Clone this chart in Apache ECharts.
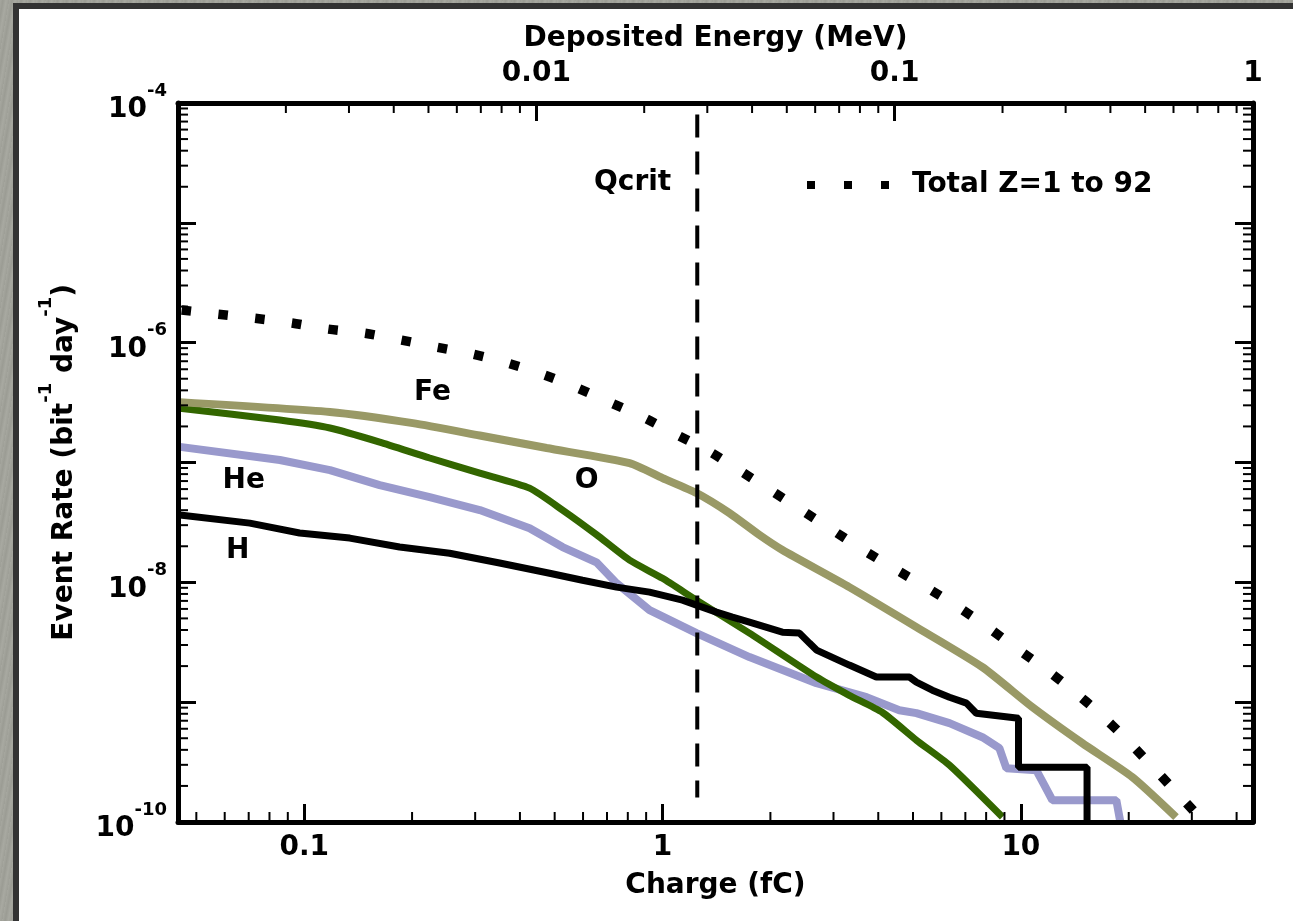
<!DOCTYPE html>
<html><head><meta charset="utf-8">
<script src="https://cdn.jsdelivr.net/npm/echarts@6/dist/echarts.min.js"></script>
<style>
html,body{margin:0;padding:0;width:1293px;height:921px;overflow:hidden;background:#a2a39b;}
#bg{position:absolute;left:0;top:0;width:1293px;height:921px;background:repeating-linear-gradient(100deg,#a6a79f 0px,#9b9c94 3px,#a8a9a1 6px,#9e9f97 9px);}
#frame{position:absolute;left:13px;top:3px;width:1290px;height:930px;box-sizing:border-box;border:6px solid #333;background:#fff;}
#chart{position:absolute;left:0;top:0;width:1293px;height:921px;}
</style></head><body>
<div id="bg"></div><div id="frame"></div><div id="chart"></div>
<script>
// ---------------- data ----------------
const totalCharge = [0.0455, 0.0574, 0.0727, 0.0923, 0.1163, 0.1475, 0.187, 0.234, 0.295, 0.3695, 0.469, 0.579, 0.721, 0.891, 1.101, 1.361, 1.651, 2.0, 2.443, 2.979, 3.71, 4.52, 5.49, 6.69, 8.07, 9.71, 11.63, 13.92, 16.56, 19.56, 22.96, 26.97, 31.47, 34];
const totalRate   = [1.87e-6, 1.73e-6, 1.60e-6, 1.46e-6, 1.30e-6, 1.20e-6, 1.05e-6, 9.19e-7, 8.03e-7, 6.76e-7, 5.37e-7, 4.18e-7, 3.13e-7, 2.35e-7, 1.69e-7, 1.22e-7, 8.48e-8, 5.89e-8, 4.01e-8, 2.73e-8, 1.79e-8, 1.26e-8, 8.95e-9, 6.21e-9, 4.23e-9, 2.82e-9, 1.92e-9, 1.26e-9, 8.09e-10, 5.0e-10, 3.03e-10, 1.81e-10, 1.10e-10, 8.5e-11];

const feCharge = [0.045, 0.118, 0.201, 0.309, 0.475, 0.809, 1.0, 1.244, 1.538, 1.865, 2.16, 3.32, 5.11, 7.81, 10.77, 14.84, 20.47, 27.1];
const feRate   = [3.19e-7, 2.64e-7, 2.13e-7, 1.68e-7, 1.32e-7, 9.88e-8, 7.41e-8, 5.56e-8, 3.78e-8, 2.48e-8, 1.86e-8, 9.12e-9, 4.23e-9, 1.96e-9, 9.08e-10, 4.55e-10, 2.37e-10, 1.10e-10];

const oCharge = [0.045, 0.0855, 0.118, 0.1624, 0.224, 0.309, 0.4256, 0.526, 0.654, 0.809, 1.0, 1.244, 1.748, 2.69, 3.32, 4.11, 5.11, 6.32, 8.88];
const oRate   = [2.84e-7, 2.26e-7, 1.94e-7, 1.48e-7, 1.09e-7, 8.16e-8, 6.11e-8, 4.01e-8, 2.5e-8, 1.53e-8, 1.08e-8, 7.1e-9, 3.77e-9, 1.62e-9, 1.14e-9, 8.2e-10, 4.82e-10, 2.98e-10, 1.1e-10];

const heCharge = [0.045, 0.0855, 0.118, 0.1624, 0.224, 0.309, 0.4256, 0.526, 0.654, 0.744, 0.920, 1.244, 1.748, 2.69, 3.71, 4.58, 5.11, 6.32, 7.81, 8.71, 9.11, 11.05, 11.63, 12.24, 18.47, 18.95];
const heRate   = [1.35e-7, 1.05e-7, 8.65e-8, 6.48e-8, 5.14e-8, 4.01e-8, 2.83e-8, 1.97e-8, 1.47e-8, 9.84e-9, 5.86e-9, 3.77e-9, 2.38e-9, 1.44e-9, 1.10e-9, 8.57e-10, 8.1e-10, 6.68e-10, 5.1e-10, 4.13e-10, 2.81e-10, 2.70e-10, 2.03e-10, 1.52e-10, 1.52e-10, 1e-10];

const hCharge = [0.045, 0.0705, 0.0971, 0.134, 0.1846, 0.2546, 0.351, 0.484, 0.598, 0.744, 0.920, 1.137, 1.244, 1.414, 1.567, 1.748, 2.16, 2.41, 2.57, 2.69, 3.32, 3.95, 4.89, 5.11, 5.66, 6.32, 7.05, 7.51, 9.85, 9.85, 15.3, 15.3];
const hRate   = [3.64e-8, 3.12e-8, 2.58e-8, 2.34e-8, 1.97e-8, 1.75e-8, 1.45e-8, 1.19e-8, 1.04e-8, 9.12e-9, 8.28e-9, 7.1e-9, 6.45e-9, 5.64e-9, 5.13e-9, 4.66e-9, 3.84e-9, 3.77e-9, 3.11e-9, 2.72e-9, 2.04e-9, 1.62e-9, 1.62e-9, 1.47e-9, 1.26e-9, 1.10e-9, 9.82e-10, 8.09e-10, 7.35e-10, 2.86e-10, 2.86e-10, 1e-10];

const qcrit = 1.25;                       // fC
const qcritSpan = [8e-5, 1.6e-10];        // vertical extent of the Qcrit marker line

const chargeTickLabels = ['0.1', '1', '10'];
const energyTickLabels = ['0.01', '0.1', '1'];
const rateTickExponents = [-10, -8, -6, -4];

const seriesLabels = [ // text, charge, rate
  ['Fe', 0.228, 3.79e-7], ['O', 0.614, 7.0e-8], ['He', 0.0678, 7.0e-8], ['H', 0.0652, 1.82e-8]
];
const qcritLabel = ['Qcrit', 0.825, 2.15e-5];

// ---------------- setup ----------------
const MeVperfC = 0.0225;
const eMin = 0.001, eMax = 1;
const xMin = eMin / MeVperfC, xMax = eMax / MeVperfC;
const yMin = 1e-10, yMax = 1e-4;
const FONT = 'DejaVu Sans';
const zip = (a, b) => a.map((v, i) => [v, b[i]]);

function isDecade(v) { const l = Math.log10(v); return Math.abs(l - Math.round(l)) < 1e-6; }
function labelFrom(list) {
  return v => { if (!isDecade(v)) return ''; const s = list.find(t => Math.abs(Math.log10(+t) - Math.log10(v)) < 1e-6); return s || ''; };
}
function minors(lo, hi) {
  const out = [];
  for (let e = Math.floor(Math.log10(lo)); e <= Math.ceil(Math.log10(hi)); e++)
    for (let m = 2; m <= 9; m++) { const v = m * Math.pow(10, e); if (v > lo * 1.0001 && v < hi * 0.9999) out.push(v); }
  return out;
}
const MINOR = 10;
function tickSeries(xIdx, yIdx, data, side) {
  return {
    type: 'custom', xAxisIndex: xIdx, yAxisIndex: yIdx, silent: true, z: 9, clip: false,
    data: data,
    renderItem: (params, api) => {
      const p = api.coord([api.value(0), api.value(1)]);
      let x2 = p[0], y2 = p[1];
      if (side === 'bottom') y2 -= MINOR; else if (side === 'top') y2 += MINOR;
      else if (side === 'left') x2 += MINOR; else x2 -= MINOR;
      return { type: 'line', shape: { x1: p[0], y1: p[1], x2: x2, y2: y2 }, style: { stroke: '#000', lineWidth: 2 } };
    }
  };
}

const txt = { fontFamily: FONT, fontWeight: 'bold', fontSize: 28, color: '#000' };
const rich = {
  f: { fontFamily: FONT, fontSize: 1, lineHeight: 42, color: '#000' },
  b: { fontFamily: FONT, fontWeight: 'bold', fontSize: 28, lineHeight: 28, color: '#000', verticalAlign: 'bottom' },
  s: { fontFamily: FONT, fontWeight: 'bold', fontSize: 18, lineHeight: 28, color: '#000', verticalAlign: 'top' }
};
const axisLine = { show: true, onZero: false, lineStyle: { color: '#000', width: 5 } };
const majorTick = { show: true, inside: true, length: 18, lineStyle: { color: '#000', width: 3 } };

const option = {
  animation: false,
  backgroundColor: 'transparent',
  textStyle: { fontFamily: FONT },
  grid: { left: 178, right: 40, top: 103, bottom: 99, containLabel: false, outerBoundsMode: 'none' },
  legend: {
    data: ['Total Z=1 to 92'], left: 798, top: 166, itemWidth: 100, itemHeight: 14, selectedMode: false,
    textStyle: txt, itemStyle: { opacity: 0 }, lineStyle: { width: 8, type: [8, 29], cap: 'butt', opacity: 1 }
  },
  xAxis: [
    { type: 'log', position: 'bottom', min: xMin, max: xMax, z: 10,
      name: 'Charge (fC)', nameLocation: 'middle', nameGap: 50, nameTextStyle: txt,
      axisLine: axisLine, axisTick: majorTick, splitLine: { show: false },
      axisLabel: Object.assign({ margin: 12, formatter: labelFrom(chargeTickLabels), showMinLabel: true, showMaxLabel: true }, txt) },
    { type: 'log', position: 'top', min: eMin, max: eMax, z: 10,
      name: 'Deposited Energy (MeV)', nameLocation: 'middle', nameGap: 50, nameTextStyle: txt,
      axisLine: axisLine, axisTick: majorTick, splitLine: { show: false },
      axisLabel: Object.assign({ margin: 15, formatter: labelFrom(energyTickLabels), showMinLabel: true, showMaxLabel: true }, txt) }
  ],
  yAxis: [
    { type: 'log', position: 'left', min: yMin, max: yMax, z: 10,
      name: '{f| }{b|Event Rate (bit}{s|-1}{b| day}{s|-1}{b|)}', nameLocation: 'middle', nameRotate: 90, nameGap: 99,
      nameTextStyle: Object.assign({ rich: rich }, txt),
      axisLine: axisLine, axisTick: majorTick, splitLine: { show: false },
      axisLabel: { margin: 11, showMinLabel: true, showMaxLabel: true, rich: rich,
        formatter: v => { const e = Math.round(Math.log10(v)); return (isDecade(v) && rateTickExponents.includes(e)) ? '{f| }{b|10}{s|' + e + '}' : ''; } } },
    { type: 'log', position: 'right', min: yMin, max: yMax, z: 10,
      axisLine: axisLine, axisTick: majorTick, splitLine: { show: false }, axisLabel: { show: false } }
  ],
  series: [
    { name: 'He', type: 'line', data: zip(heCharge, heRate), showSymbol: false, symbol: 'none', clip: true,
      lineStyle: { color: '#9999cc', width: 8 } },
    { name: 'O', type: 'line', data: zip(oCharge, oRate), showSymbol: false, symbol: 'none', smooth: 0.2, clip: true,
      lineStyle: { color: '#336600', width: 7 } },
    { name: 'Fe', type: 'line', data: zip(feCharge, feRate), showSymbol: false, symbol: 'none', smooth: 0.2, clip: true,
      lineStyle: { color: '#999966', width: 8 } },
    { name: 'H', type: 'line', data: zip(hCharge, hRate), showSymbol: false, symbol: 'none', clip: true,
      lineStyle: { color: '#000', width: 7 } },
    { name: 'Total Z=1 to 92', type: 'line', data: zip(totalCharge, totalRate), showSymbol: false, symbol: 'none', smooth: 0.3, clip: true,
      lineStyle: { color: '#000', width: 9.5, type: [9.5, 27.5], cap: 'butt' }, itemStyle: { color: '#000' } },
    { name: 'Qcrit', type: 'line', data: [[qcrit, qcritSpan[0]], [qcrit, qcritSpan[1]]], showSymbol: false, symbol: 'none',
      lineStyle: { color: '#000', width: 4, type: [23, 14] } },
    { name: 'labels', type: 'scatter', symbolSize: 0, silent: true, itemStyle: { opacity: 1 },
      data: seriesLabels.concat([qcritLabel]).map(l => ({ name: l[0], value: [l[1], l[2]] })),
      label: Object.assign({ show: true, position: 'inside', formatter: '{b}' }, txt) },
    tickSeries(0, 0, minors(xMin, xMax).map(v => [v, yMin]), 'bottom'),
    tickSeries(1, 0, minors(eMin, eMax).map(v => [v, yMax]), 'top'),
    tickSeries(0, 0, minors(yMin, yMax).map(v => [xMin, v]), 'left'),
    tickSeries(0, 1, minors(yMin, yMax).map(v => [xMax, v]), 'right')
  ]
};
const chart = echarts.init(document.getElementById('chart'), null, { renderer: 'canvas' });
chart.setOption(option);
</script>
</body></html>
